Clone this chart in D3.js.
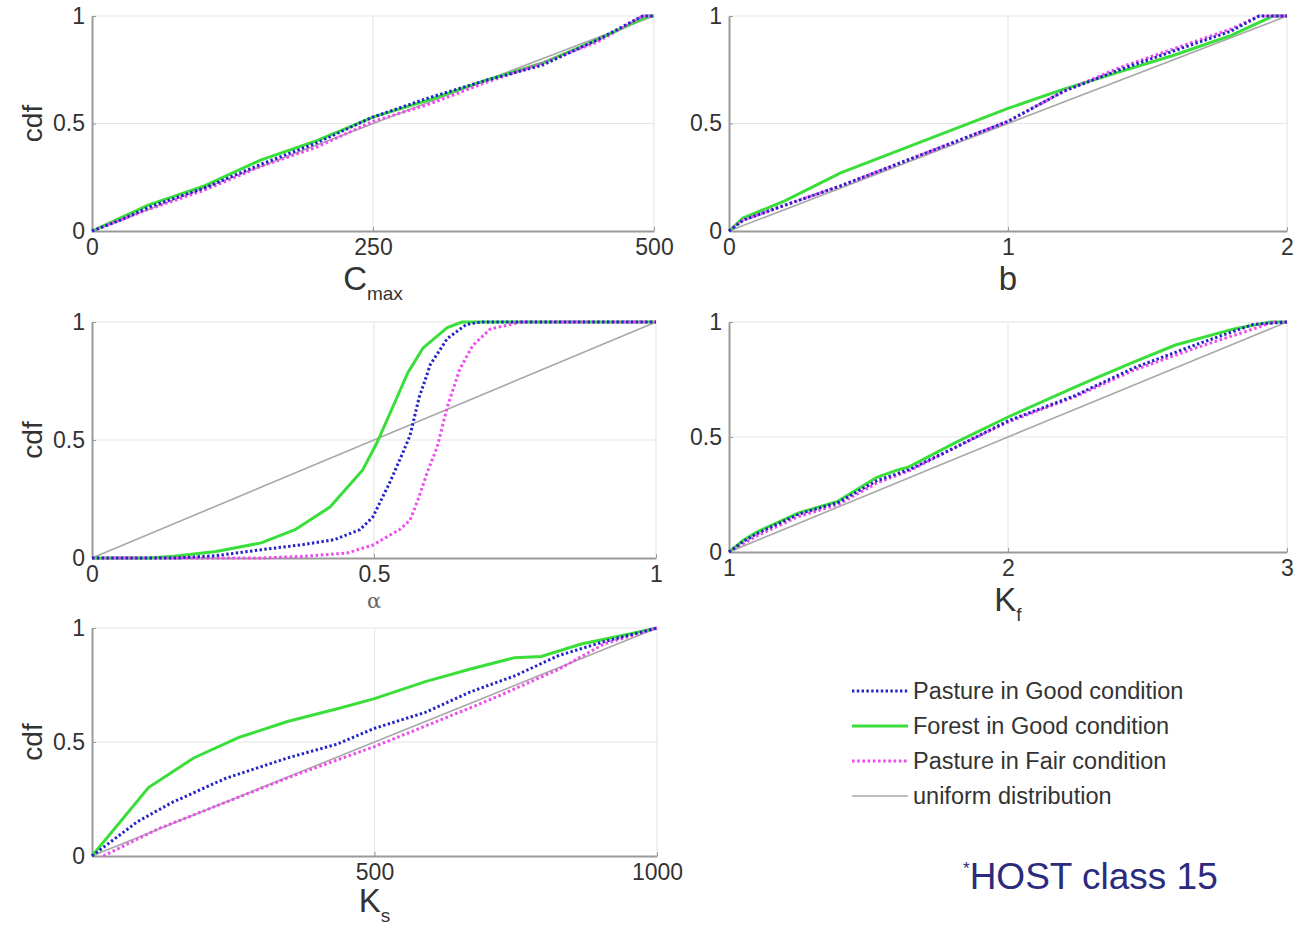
<!DOCTYPE html>
<html>
<head>
<meta charset="utf-8">
<script src="https://cdn.jsdelivr.net/npm/d3@7"></script>
<style>
  body { margin: 0; background: #fff; }
  text { font-family: "Liberation Sans", Arial, sans-serif; }
</style>
</head>
<body>
<svg id="chart" width="1297" height="933"></svg>
<script>
'use strict'

// legend entries, same order as the series arrays below
const seriesNames = ['Pasture in Good condition', 'Forest in Good condition', 'Pasture in Fair condition', 'uniform distribution'];
const yTicks = [0, 0.5, 1];

// C_max
const cmaxTicks = [0, 250, 500];
const cmaxPastureGood = [[0,0],[25,0.05],[50,0.11],[100,0.2],[150,0.31],[200,0.41],[250,0.53],[300,0.62],[350,0.7],[400,0.77],[450,0.89],[490,1],[500,1]];
const cmaxForestGood = [[0,0],[25,0.06],[50,0.12],[100,0.21],[150,0.33],[200,0.42],[250,0.53],[300,0.61],[350,0.7],[400,0.78],[450,0.89],[495,1],[500,1]];
const cmaxPastureFair = [[0,0],[25,0.05],[50,0.1],[100,0.19],[150,0.3],[200,0.39],[250,0.51],[300,0.59],[350,0.69],[400,0.78],[450,0.88],[490,1],[500,1]];

// b
const bTicks = [0, 1, 2];
const bPastureGood = [[0,0],[0.05,0.05],[0.2,0.12],[0.4,0.21],[0.6,0.31],[0.8,0.41],[1.0,0.51],[1.2,0.65],[1.4,0.75],[1.6,0.84],[1.8,0.93],[1.9,1],[2,1]];
const bForestGood = [[0,0],[0.05,0.06],[0.2,0.14],[0.4,0.27],[0.5,0.32],[0.7,0.42],[0.9,0.52],[1.0,0.57],[1.2,0.66],[1.4,0.74],[1.6,0.82],[1.8,0.91],[1.95,1],[2,1]];
const bPastureFair = [[0,0],[0.05,0.05],[0.2,0.12],[0.4,0.21],[0.6,0.31],[0.8,0.41],[1.0,0.51],[1.2,0.65],[1.4,0.76],[1.6,0.85],[1.8,0.94],[1.9,1],[2,1]];

// alpha
const alphaTicks = [0, 0.5, 1];
const alphaPastureGood = [[0,0],[0.15,0],[0.22,0.01],[0.3,0.035],[0.375,0.057],[0.43,0.078],[0.475,0.12],[0.498,0.174],[0.528,0.32],[0.551,0.445],[0.564,0.52],[0.58,0.68],[0.6,0.82],[0.63,0.93],[0.664,0.99],[0.69,1],[1,1]];
const alphaForestGood = [[0,0],[0.1,0],[0.145,0.007],[0.22,0.028],[0.3,0.064],[0.36,0.12],[0.422,0.216],[0.48,0.373],[0.505,0.487],[0.537,0.66],[0.56,0.785],[0.587,0.89],[0.63,0.976],[0.656,1],[1,1]];
const alphaPastureFair = [[0,0],[0.3,0],[0.375,0.007],[0.452,0.021],[0.498,0.055],[0.545,0.12],[0.564,0.16],[0.58,0.26],[0.594,0.36],[0.612,0.47],[0.63,0.64],[0.652,0.8],[0.675,0.9],[0.706,0.97],[0.76,1],[1,1]];

// K_f
const kfTicks = [1, 2, 3];
const kfPastureGood = [[1,0],[1.05,0.045],[1.1,0.08],[1.25,0.165],[1.39,0.215],[1.53,0.31],[1.65,0.36],[1.82,0.46],[2.0,0.57],[2.24,0.68],[2.45,0.8],[2.67,0.9],[2.88,0.99],[3,1]];
const kfForestGood = [[1,0],[1.05,0.05],[1.1,0.087],[1.25,0.17],[1.39,0.22],[1.53,0.325],[1.6,0.355],[1.645,0.37],[1.815,0.478],[2.0,0.587],[2.24,0.717],[2.31,0.754],[2.45,0.826],[2.6,0.9],[2.81,0.97],[2.94,1],[3,1]];
const kfPastureFair = [[1,0],[1.05,0.035],[1.1,0.07],[1.25,0.155],[1.39,0.205],[1.53,0.3],[1.65,0.355],[1.82,0.46],[2.0,0.565],[2.24,0.675],[2.45,0.79],[2.67,0.886],[2.88,0.97],[2.95,1],[3,1]];

// K_s
const ksTicks = [500, 1000];
const ksPastureGood = [[0,0],[80,0.15],[142,0.235],[236,0.34],[346,0.43],[433,0.49],[500,0.56],[590,0.63],[670,0.72],[748,0.79],[827,0.88],[906,0.94],[1000,1]];
const ksForestGood = [[0,0],[100,0.3],[180,0.43],[260,0.52],[346,0.59],[441,0.65],[500,0.69],[590,0.765],[670,0.82],[748,0.87],[795,0.875],[866,0.93],[945,0.97],[1000,1]];
const ksPastureFair = [[20,0],[118,0.12],[236,0.235],[354,0.35],[500,0.48],[590,0.57],[709,0.69],[827,0.82],[906,0.93],[1000,1]];

const svg = d3.select('#chart');

const colors = ['#2424c8', '#3ade3a', '#ee4cee', '#a8a8a8'];
const widths = [3, 3, 3, 1.6];
const dashes = ['2.4,2.4', null, '2.6,2.6', null];

const panels = [
    { left: 92, right: 654, top: 16, bottom: 231, domain: [0, 500], ticks: cmaxTicks, series: [cmaxPastureGood, cmaxForestGood, cmaxPastureFair], label: 'C', sub: 'max', cdf: true },
    { left: 729, right: 1287, top: 16, bottom: 231, domain: [0, 2], ticks: bTicks, series: [bPastureGood, bForestGood, bPastureFair], label: 'b', cdf: false },
    { left: 92, right: 656, top: 322, bottom: 558, domain: [0, 1], ticks: alphaTicks, series: [alphaPastureGood, alphaForestGood, alphaPastureFair], label: 'α', greek: true, cdf: true },
    { left: 729, right: 1287, top: 322, bottom: 552, domain: [1, 3], ticks: kfTicks, series: [kfPastureGood, kfForestGood, kfPastureFair], label: 'K', sub: 'f', cdf: false },
    { left: 92, right: 657, top: 628, bottom: 856, domain: [0, 1000], ticks: ksTicks, series: [ksPastureGood, ksForestGood, ksPastureFair], label: 'K', sub: 's', cdf: true, labelGap: 56 }
];

panels.forEach((p) => {
    const x = d3.scaleLinear().domain(p.domain).range([p.left, p.right]);
    const y = d3.scaleLinear().domain([0, 1]).range([p.bottom, p.top]);
    const g = svg.append('g');

    // grid
    g.append('g').selectAll('line')
        .data(p.ticks.filter((t) => t !== p.domain[0]))
        .enter().append('line')
        .attr('x1', (d) => x(d)).attr('x2', (d) => x(d))
        .attr('y1', p.top).attr('y2', p.bottom)
        .attr('stroke', '#e6e6e6').attr('stroke-width', 1.2);
    g.append('g').selectAll('line')
        .data(yTicks.filter((t) => t !== 0))
        .enter().append('line')
        .attr('x1', p.left).attr('x2', p.right)
        .attr('y1', (d) => y(d)).attr('y2', (d) => y(d))
        .attr('stroke', '#e6e6e6').attr('stroke-width', 1.2);

    // axes
    const xAxis = g.append('g')
        .attr('transform', 'translate(0,' + p.bottom + ')')
        .call(d3.axisBottom(x).tickValues(p.ticks).tickSizeInner(-4).tickSizeOuter(0).tickPadding(8).tickFormat(d3.format('')));
    const yAxis = g.append('g')
        .attr('transform', 'translate(' + p.left + ',0)')
        .call(d3.axisLeft(y).tickValues(yTicks).tickSizeInner(-4).tickSizeOuter(0).tickPadding(7).tickFormat(d3.format('')));
    [xAxis, yAxis].forEach((a) => {
        a.select('.domain').attr('stroke', '#9a9a9a').attr('stroke-width', 2);
        a.selectAll('.tick line').attr('stroke', '#9a9a9a');
        a.selectAll('.tick text').attr('fill', '#333').style('font-size', '23px');
    });

    // uniform distribution reference
    g.append('line')
        .attr('x1', x(p.domain[0])).attr('y1', y(0))
        .attr('x2', x(p.domain[1])).attr('y2', y(1))
        .attr('stroke', colors[3]).attr('stroke-width', widths[3]);

    const line = d3.line().x((d) => x(d[0])).y((d) => y(d[1]));
    // green first so the dotted curves sit on top like the original
    [1, 2, 0].forEach((i) => {
        g.append('path')
            .datum(p.series[i])
            .attr('d', line)
            .attr('fill', 'none')
            .attr('stroke', colors[i])
            .attr('stroke-width', widths[i])
            .attr('stroke-dasharray', dashes[i]);
    });

    // axis label
    const cx = (p.left + p.right) / 2;
    if (p.greek) {
        g.append('text').attr('x', cx).attr('y', p.bottom + 50)
            .attr('text-anchor', 'middle').attr('fill', '#666')
            .style('font-family', '"DejaVu Serif", serif').style('font-size', '21px')
            .text(p.label);
    } else {
        const t = g.append('text').attr('x', cx).attr('y', p.bottom + (p.labelGap || 59))
            .attr('text-anchor', 'middle').attr('fill', '#333').style('font-size', '33px');
        t.append('tspan').text(p.label);
        if (p.sub) {
            t.append('tspan').attr('dy', 10).style('font-size', '19px').text(p.sub);
        }
    }

    if (p.cdf) {
        g.append('text')
            .attr('transform', 'translate(42,' + ((p.top + p.bottom) / 2) + ')rotate(-90)')
            .attr('text-anchor', 'middle').attr('fill', '#333').style('font-size', '28px')
            .text('cdf');
    }
});

// legend
const legend = svg.append('g').attr('transform', 'translate(852,691)');
seriesNames.forEach((name, i) => {
    const row = legend.append('g').attr('transform', 'translate(0,' + (i * 35) + ')');
    row.append('line')
        .attr('x1', 0).attr('x2', 56).attr('y1', 0).attr('y2', 0)
        .attr('stroke', colors[i])
        .attr('stroke-width', i === 3 ? 1.6 : 3)
        .attr('stroke-dasharray', dashes[i]);
    row.append('text').attr('x', 61).attr('y', 8)
        .attr('fill', '#333').style('font-size', '23.5px')
        .text(name);
});

// footnote
const note = svg.append('text').attr('x', 963).attr('y', 889).attr('fill', '#2b2b7e').style('font-size', '37px');
note.append('tspan').attr('dy', -15).style('font-size', '17px').text('*');
note.append('tspan').attr('dy', 15).text('HOST class 15');
</script>
</body>
</html>
